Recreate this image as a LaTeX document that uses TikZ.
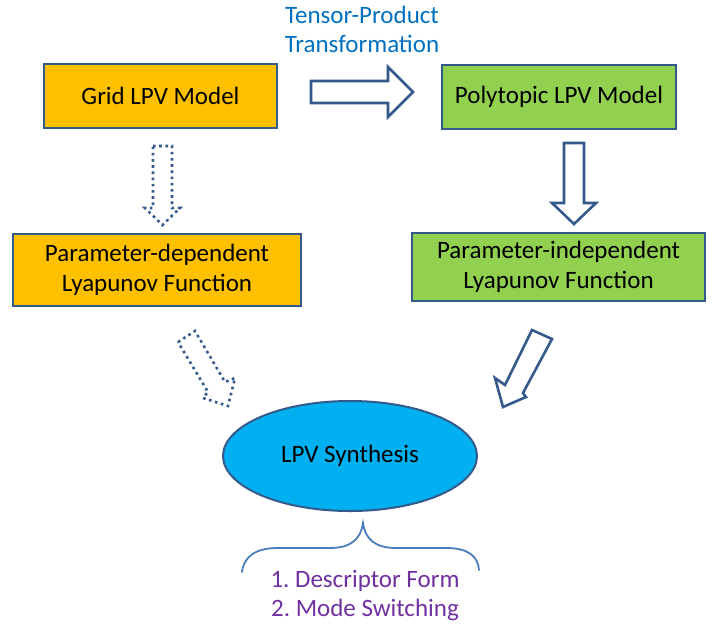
\documentclass[tikz,border=0pt]{standalone}
\usepackage{fontspec}
\setmainfont{Carlito}
\usetikzlibrary{shapes.geometric}
\definecolor{bordc}{RGB}{52,90,140}
\definecolor{orangef}{RGB}{255,192,0}
\definecolor{greenf}{RGB}{146,208,80}
\definecolor{cyanf}{RGB}{0,176,240}
\definecolor{tpblue}{RGB}{0,112,192}
\definecolor{purp}{RGB}{112,48,160}
\definecolor{bracec}{RGB}{74,126,187}
\tikzset{
  box/.style={draw=bordc, line width=2pt, align=center, font=\fontsize{25}{30}\selectfont, inner sep=0pt},
  orbox/.style={box, fill=orangef},
  grbox/.style={box, fill=greenf},
  blockarrow/.style={draw=bordc, line width=2.6pt, line join=miter, fill=white},
  dotarrow/.style={draw=bordc, line width=2.6pt, dash pattern=on 2.6pt off 3.6pt, fill=white},
  lbl/.style={align=center, font=\fontsize{25}{29}\selectfont, inner sep=0pt}
}
\begin{document}
\begin{tikzpicture}[x=1pt, y=-1pt]
\useasboundingbox (0,0) rectangle (723,630);

% boxes
\node[orbox, minimum width=233pt, minimum height=64pt] (grid) at (160.5,96) {Grid LPV Model};
\node[grbox, minimum width=234pt, minimum height=64pt] (poly) at (559,97) {Polytopic LPV Model};
\node[orbox, minimum width=288pt, minimum height=72pt] (pdep) at (157,270) {Parameter-dependent\\Lyapunov Function};
\node[grbox, minimum width=293pt, minimum height=68pt] (pind) at (558.5,267) {Parameter-independent\\Lyapunov Function};
\node[draw=bordc, line width=2pt, fill=cyanf, ellipse, minimum width=254pt, minimum height=110pt, inner sep=0pt, font=\fontsize{25}{30}\selectfont] (syn) at (350,456) {LPV Synthesis};

% labels
\node[lbl, text=tpblue] (tp) at (362,29) {Tensor-Product\\Transformation};
\node[lbl, text=purp] (modes) at (365,596) {1.\ Descriptor Form\\2.\ Mode Switching};

% block arrows
\draw[blockarrow] (311,81) -- (388,81) -- (388,67) -- (413,92) -- (388,117) -- (388,103) -- (311,103) -- cycle;
\draw[blockarrow] (564,143) -- (584,143) -- (584,203) -- (596,203) -- (574,224) -- (552,203) -- (564,203) -- cycle;
\draw[dotarrow] (153,146) -- (172,146) -- (172,208) -- (180,208) -- (162.5,225) -- (145,208) -- (153,208) -- cycle;
\draw[dotarrow] (178,342) -- (195,331) -- (225,382) -- (235,378) -- (228,406) -- (203,398) -- (208,392) -- cycle;
\draw[blockarrow] (532,330) -- (552,339) -- (523,393) -- (526,397) -- (503,407) -- (495,378) -- (505,385) -- cycle;

% brace
\draw[bracec, line width=1.8pt, line cap=round]
  (242,572) .. controls (244,556) and (256,548) .. (278,548)
  -- (330,548) .. controls (352,548) and (361,538) .. (363,523)
  .. controls (365,538) and (374,548) .. (396,548)
  -- (446,548) .. controls (468,548) and (478,556) .. (479,570);
\end{tikzpicture}
\end{document}
